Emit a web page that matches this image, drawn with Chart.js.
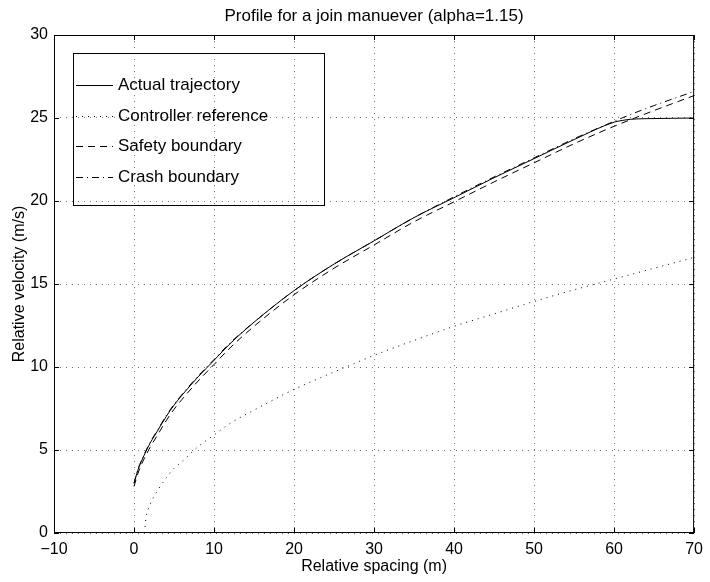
<!DOCTYPE html>
<html>
<head>
<meta charset="utf-8">
<script src="https://cdn.jsdelivr.net/npm/chart.js@4"></script>
<style>
  html, body { margin: 0; padding: 0; background: #fff; }
  canvas { display: block; }
</style>
</head>
<body>
<canvas id="join-chart" width="710" height="582"></canvas>
<script>
// values
const actualX = [0, 0.5, 1, 2, 3, 4, 5, 6, 8, 10, 12, 15, 20, 25, 30, 35, 40, 45, 50, 55, 60, 61, 62, 64, 67, 70];
const actualY = [3.0, 3.8, 4.4, 5.4, 6.2, 7.0, 7.7, 8.3, 9.4, 10.4, 11.4, 12.7, 14.6, 16.2, 17.6, 19.0, 20.2, 21.4, 22.55, 23.7, 24.75, 24.85, 24.92, 24.96, 24.98, 25.0];

const controllerX = [1.3, 1.5, 2, 3, 4, 5, 6, 8, 10, 12, 15, 20, 25, 30, 35, 40, 45, 50, 55, 60, 65, 70];
const controllerY = [0, 0.9, 1.7, 2.6, 3.3, 3.9, 4.3, 5.2, 5.9, 6.6, 7.4, 8.65, 9.7, 10.7, 11.6, 12.45, 13.2, 13.95, 14.65, 15.3, 15.95, 16.6];

const safetyX = [0, 0.5, 1, 2, 3, 4, 5, 6, 8, 10, 12, 15, 20, 25, 30, 35, 40, 45, 50, 55, 60, 65, 70];
const safetyY = [2.8, 3.6, 4.2, 5.15, 5.95, 6.75, 7.45, 8.05, 9.15, 10.15, 11.15, 12.45, 14.35, 15.95, 17.35, 18.75, 19.95, 21.15, 22.3, 23.45, 24.5, 25.45, 26.35];

const crashX = [0, 0.5, 1, 2, 3, 4, 5, 6, 8, 10, 12, 15, 20, 25, 30, 35, 40, 45, 50, 55, 60, 62, 65, 70];
const crashY = [3.0, 3.85, 4.45, 5.45, 6.25, 7.05, 7.75, 8.35, 9.45, 10.45, 11.45, 12.7, 14.6, 16.2, 17.6, 19.0, 20.25, 21.45, 22.6, 23.75, 24.8, 25.2, 25.75, 26.6];

const seriesNames = ["Actual trajectory", "Controller reference", "Safety boundary", "Crash boundary"];
const xTicks = [-10, 0, 10, 20, 30, 40, 50, 60, 70];
const yTicks = [0, 5, 10, 15, 20, 25, 30];

const FONT = "Arial, 'Liberation Sans', Helvetica, sans-serif";

function toPoints(xs, ys) {
  return xs.map((x, i) => ({ x: x, y: ys[i] }));
}

function lineSet(label, xs, ys, dash) {
  return {
    label: label,
    data: toPoints(xs, ys),
    borderColor: "#000",
    borderWidth: 1,
    borderDash: dash,
    pointRadius: 0,
    fill: false,
    cubicInterpolationMode: "monotone",
  };
}

const dashes = [[], [1, 5], [7, 5], [7, 4, 1, 4]];

// box, inward ticks, title and legend in the matlab style
const matlabFrame = {
  id: "matlabFrame",
  afterDraw(chart) {
    const { ctx, chartArea: a, scales } = chart;
    ctx.save();
    ctx.strokeStyle = "#000";
    ctx.lineWidth = 1;
    ctx.setLineDash([]);
    ctx.strokeRect(a.left + 0.5, a.top + 0.5, a.right - a.left - 1, a.bottom - a.top - 1);

    const tl = 5;
    ctx.beginPath();
    xTicks.forEach((v) => {
      const px = Math.round(scales.x.getPixelForValue(v)) + 0.5;
      ctx.moveTo(px, a.bottom);
      ctx.lineTo(px, a.bottom - tl);
      ctx.moveTo(px, a.top);
      ctx.lineTo(px, a.top + tl);
    });
    yTicks.forEach((v) => {
      const py = Math.round(scales.y.getPixelForValue(v)) + 0.5;
      ctx.moveTo(a.left, py);
      ctx.lineTo(a.left + tl, py);
      ctx.moveTo(a.right, py);
      ctx.lineTo(a.right - tl, py);
    });
    ctx.stroke();

    // title
    ctx.fillStyle = "#000";
    ctx.font = "17px " + FONT;
    ctx.textAlign = "center";
    ctx.textBaseline = "middle";
    ctx.fillText("Profile for a join manuever (alpha=1.15)", (a.left + a.right) / 2, 16);

    // legend
    const bx = 73, by = 53, bw = 251, bh = 152;
    ctx.strokeRect(bx + 0.5, by + 0.5, bw, bh);
    ctx.textAlign = "left";
    seriesNames.forEach((name, i) => {
      const ry = Math.round(85 + i * 30.6) + 0.5;
      ctx.beginPath();
      ctx.setLineDash(dashes[i]);
      ctx.moveTo(76, ry);
      ctx.lineTo(113, ry);
      ctx.stroke();
      ctx.setLineDash([]);
      ctx.fillText(name, 118, ry);
    });
    ctx.restore();
  },
};

const ctx = document.getElementById("join-chart").getContext("2d");
const chart = new Chart(ctx, {
  type: "line",
  data: {
    datasets: [
      lineSet(seriesNames[0], actualX, actualY, dashes[0]),
      lineSet(seriesNames[1], controllerX, controllerY, dashes[1]),
      lineSet(seriesNames[2], safetyX, safetyY, dashes[2]),
      lineSet(seriesNames[3], crashX, crashY, dashes[3]),
    ],
  },
  options: {
    responsive: false,
    animation: false,
    layout: { padding: { top: 35, right: 12, left: 0, bottom: 0 } },
    plugins: {
      legend: { display: false },
      title: { display: false },
      tooltip: { enabled: false },
    },
    scales: {
      x: {
        type: "linear",
        min: -10,
        max: 70,
        afterBuildTicks: (scale) => {
          scale.ticks = xTicks.map((v) => ({ value: v }));
        },
        afterFit: (scale) => {
          scale.height = 49;
        },
        border: { display: false, dash: [1, 5] },
        grid: {
          color: "#777",
          lineWidth: 1,
          drawTicks: false,
        },
        ticks: {
          color: "#000",
          padding: 7,
          maxRotation: 0,
          font: { family: FONT, size: 16 },
          callback: (v) => String(v).replace("-", "\u2212"),
        },
        title: {
          display: true,
          text: "Relative spacing (m)",
          color: "#000",
          font: { family: FONT, size: 16 },
          padding: { top: 0, bottom: 6 },
        },
      },
      y: {
        type: "linear",
        min: 0,
        max: 30,
        afterBuildTicks: (scale) => {
          scale.ticks = yTicks.map((v) => ({ value: v }));
        },
        afterFit: (scale) => {
          scale.width = 54;
        },
        border: { display: false, dash: [1, 5] },
        grid: {
          color: "#777",
          lineWidth: 1,
          drawTicks: false,
        },
        ticks: {
          color: "#000",
          padding: 6,
          font: { family: FONT, size: 16 },
        },
        title: {
          display: true,
          text: "Relative velocity (m/s)",
          color: "#000",
          font: { family: FONT, size: 16 },
          padding: { top: 10, bottom: 0 },
        },
      },
    },
  },
  plugins: [matlabFrame],
});
</script>
</body>
</html>
